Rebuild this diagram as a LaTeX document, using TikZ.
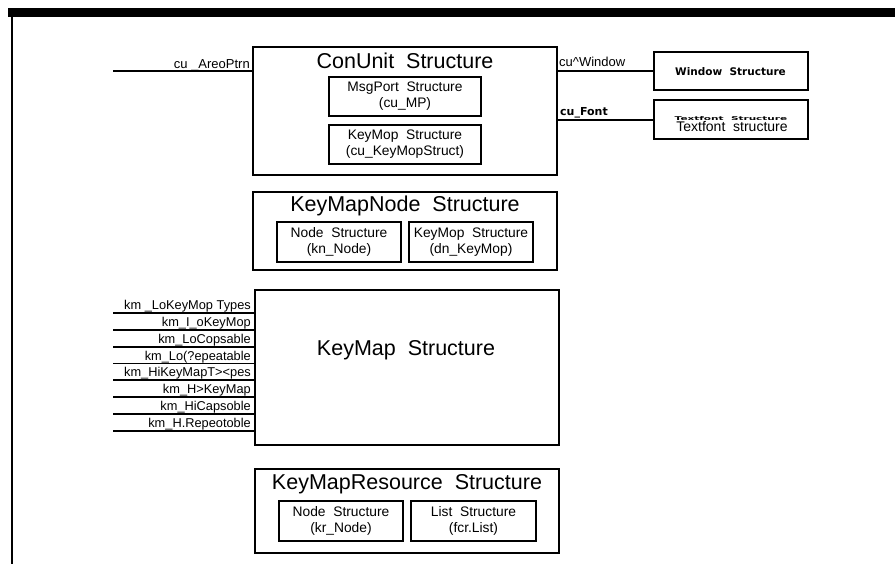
\documentclass[tikz,border=0pt]{standalone}
\usepackage{fontspec}
\setmainfont{Liberation Sans}
\newfontfamily\stickfont{DejaVu Sans}[BoldFont={DejaVu Sans Bold}]
\begin{document}
\begin{tikzpicture}[x=1pt,y=-1pt]
\tikzset{
  outerbox/.style={draw, line width=2.4pt, inner sep=0pt},
  innerbox/.style={draw, line width=2.8pt, inner sep=0pt, align=center,
    font=\fontsize{13.8}{16}\selectfont, minimum height=40pt},
  boxtitle/.style={inner sep=0pt, font=\fontsize{21.5}{24}\selectfont},
  linklabel/.style={inner sep=0pt, font=\fontsize{13}{15}\selectfont},
  sticklabel/.style={inner sep=0pt, font=\stickfont\bfseries\fontsize{10.5}{12}\selectfont},
  fieldlabel/.style={inner sep=0pt, anchor=base east, font=\fontsize{12.8}{15}\selectfont},
  link/.style={line width=1.5pt},
}
\useasboundingbox (0,0) rectangle (895,564);

% page frame: heavy top rule and left margin rule
\fill (8,8) rectangle (895,17);
\draw[line width=2pt] (12,17) -- (12,564);

% ConUnit structure
\node[outerbox, minimum width=304pt, minimum height=128pt] (conunit) at (405,111) {};
\node[boxtitle] (conunitT) at (405,61) {ConUnit\ \ Structure};
\node[innerbox, minimum width=152pt, minimum height=39pt] (msgport) at (405,96.5)
  {MsgPort\ \ Structure\\(cu\_MP)};
\node[innerbox, minimum width=152pt, minimum height=39pt] (keymop) at (405,144.5)
  {KeyMop\ \ Structure\\(cu\_KeyMopStruct)};

% pointer to the area
\coordinate (areoEnd) at (113,71);
\draw[link] (areoEnd) -- (conunit.west |- areoEnd);
\node[linklabel, anchor=base east] (areoL) at (250,68.5) {cu \_AreoPtrn};

% window and font structures
\node[outerbox, minimum width=154pt, minimum height=38pt] (window) at (731,71) {};
\node[sticklabel, anchor=base] (windowT) at (730.5,76) {Window\ \ Structure};
\node[outerbox, minimum width=154pt, minimum height=39pt] (textfont) at (731,119.5) {};
% half-hidden older caption, only its upper strokes show
\begin{scope}
  \clip (656,116) rectangle (806,119.6);
  \node[sticklabel, anchor=base] (textfontG) at (731,121)
    {\scalebox{1}[0.5]{Textfont\ \ Structure}};
\end{scope}
\node[inner sep=0pt, anchor=base, font=\fontsize{14}{16}\selectfont] (textfontT) at (732,131.5)
  {Textfont\ \ structure};

\draw[link] (conunit.east |- window.west) -- (window.west);
\node[linklabel, anchor=base west] (windowL) at (559,67) {cu\textasciicircum Window};
\draw[link] (conunit.east |- 0,120) -- (textfont.west |- 0,120);
\node[sticklabel, anchor=base west, font=\stickfont\bfseries\fontsize{11}{13}\selectfont] (fontL) at (560,116) {cu\_Font};

% KeyMapNode structure
\node[outerbox, minimum width=304pt, minimum height=78pt] (kmnode) at (405,231) {};
\node[boxtitle] (kmnodeT) at (405,206) {KeyMapNode\ \ Structure};
\node[innerbox, minimum width=124pt] (knnode) at (339,242) {Node\ \ Structure\\(kn\_Node)};
\node[innerbox, minimum width=124pt] (dnkeymop) at (471,242) {KeyMop\ \ Structure\\(dn\_KeyMop)};

% KeyMap structure with its fields
\node[outerbox, minimum width=304pt, minimum height=155pt] (keymap) at (407,367.5) {};
\node[boxtitle] (keymapT) at (406,350) {KeyMap\ \ Structure};
\foreach \y/\t [count=\i] in {
    313/{km \_LoKeyMop Types},
    330/{km\_I\_oKeyMop},
    347/{km\_LoCopsable},
    363.5/{km\_Lo(?epeatable},
    380/{km\_HiKeyMapT><pes},
    397/{km\_H>KeyMap},
    414/{km\_HiCapsoble},
    431/{km\_H.Repeotoble}} {
  \coordinate (fe\i) at (113,\y);
  \draw[link] (fe\i) -- (keymap.west |- fe\i);
  \node[fieldlabel] (fl\i) at (251,\y-3.5) {\t};
}

% KeyMapResource structure
\node[outerbox, minimum width=304pt, minimum height=84pt] (kmres) at (407,511) {};
\node[boxtitle] (kmresT) at (407,484) {KeyMapResource\ \ Structure};
\node[innerbox, minimum width=124pt] (krnode) at (341,521) {Node\ \ Structure\\(kr\_Node)};
\node[innerbox, minimum width=125pt] (fcrlist) at (473.5,521) {List\ \ Structure\\(fcr.List)};
\end{tikzpicture}
\end{document}
